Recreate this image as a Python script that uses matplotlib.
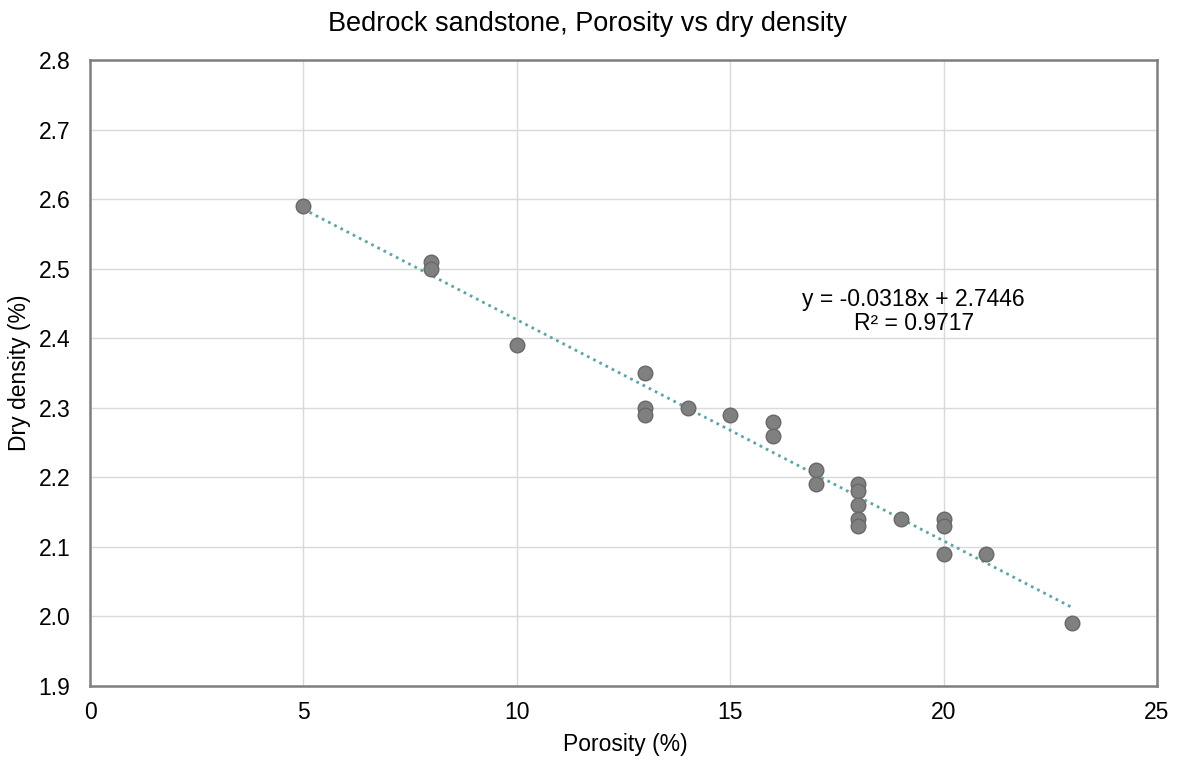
import matplotlib
matplotlib.use('Agg')
import matplotlib.pyplot as plt
import numpy as np

plt.rcParams['font.family'] = ['Liberation Sans', 'DejaVu Sans']

porosity = [5, 8, 8, 10, 13, 13, 13, 14, 15, 16, 16, 17, 17,
            18, 18, 18, 18, 18, 19, 20, 20, 20, 21, 23]
density = [2.59, 2.51, 2.50, 2.39, 2.35, 2.30, 2.29, 2.30, 2.29, 2.28, 2.26, 2.21, 2.19,
           2.19, 2.18, 2.16, 2.14, 2.13, 2.14, 2.14, 2.13, 2.09, 2.09, 1.99]
slope = -0.0318
intercept = 2.7446
r2 = 0.9717

fig = plt.figure(figsize=(11.8, 7.61), dpi=100)
ax = fig.add_axes([0.0763, 0.0986, 0.9042, 0.8226])

xs = np.array([min(porosity), max(porosity)])
ax.plot(xs, slope * xs + intercept, linestyle=(0, (1, 1.5)), color='#5fa5a8', lw=2, zorder=2)
ax.plot(porosity, density, 'o', ms=10.5, color='#808080', mec='#686868', mew=1, zorder=3)

ax.text(19.3, 2.438, 'y = %.4fx + %.4f\nR² = %.4f' % (slope, intercept, r2),
        ha='center', va='center', fontsize=16.5, linespacing=1.05)

ax.set_xlim(0, 25)
ax.set_ylim(1.9, 2.8)
ax.set_xticks(range(0, 26, 5))
ax.set_yticks(np.arange(1.9, 2.81, 0.1))
ax.set_yticklabels(['%.1f' % v for v in np.arange(1.9, 2.81, 0.1)])
ax.grid(True, color='#d9d9d9', lw=1)
ax.set_axisbelow(True)
ax.tick_params(length=0, labelsize=16.5)
ax.tick_params(axis='x', pad=11)
ax.tick_params(axis='y', pad=14)
for s in ax.spines.values():
    s.set_color('#7f7f7f')
    s.set_linewidth(1.8)

fig.text(625 / 1180, 1 - 745 / 761, 'Porosity (%)', ha='center', va='center', fontsize=16.5)
fig.text(20 / 1180, 1 - 373 / 761, 'Dry density (%)', ha='center', va='center',
         rotation=90, fontsize=16.5)
fig.text(587 / 1180, 1 - 24 / 761, 'Bedrock sandstone, Porosity vs dry density',
         ha='center', va='center', fontsize=19.5)

fig.savefig('out.png', dpi=100)
